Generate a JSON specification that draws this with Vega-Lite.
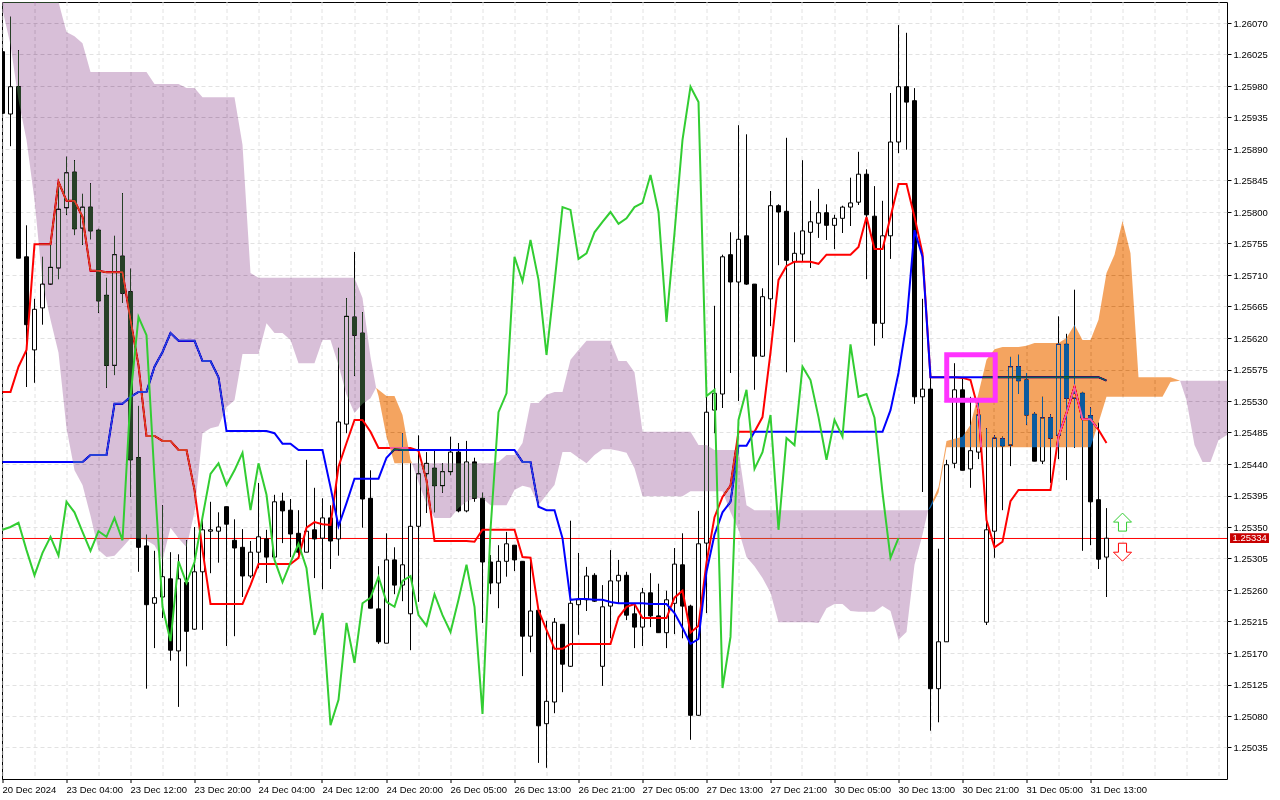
{
  "$schema": "https://vega.github.io/schema/vega-lite/v6.json",
  "autosize": "none",
  "width": 1225,
  "height": 777,
  "padding": {"left": 2, "top": 2, "right": 53, "bottom": 21},
  "background": "#ffffff",
  "view": {"fill": "#ffffff", "stroke": "#000000", "strokeWidth": 1},
  "datasets": {
    "bars": [
      {"i":0,"o":1.26029,"h":1.26029,"l":1.25941,"c":1.25941,"tenkan":1.25543,"kijun":1.25443,"chikou":1.25346},
      {"i":1,"o":1.2594,"h":1.26079,"l":1.25894,"c":1.25979,"tenkan":1.25543,"kijun":1.25443,"chikou":1.2535},
      {"i":2,"o":1.25979,"h":1.26031,"l":1.25734,"c":1.25734,"tenkan":1.25579,"kijun":1.25443,"chikou":1.25356},
      {"i":3,"o":1.25736,"h":1.25781,"l":1.2555,"c":1.25639,"tenkan":1.25603,"kijun":1.25443,"chikou":1.25317},
      {"i":4,"o":1.25603,"h":1.25676,"l":1.25556,"c":1.25661,"tenkan":1.25754,"kijun":1.25443,"chikou":1.25281},
      {"i":5,"o":1.25663,"h":1.25736,"l":1.25639,"c":1.25697,"tenkan":1.25754,"kijun":1.25443,"chikou":1.25313},
      {"i":6,"o":1.25697,"h":1.25756,"l":1.25696,"c":1.25721,"tenkan":1.25754,"kijun":1.25443,"chikou":1.25336},
      {"i":7,"o":1.2572,"h":1.25843,"l":1.25704,"c":1.25804,"tenkan":1.25843,"kijun":1.25443,"chikou":1.25309},
      {"i":8,"o":1.25806,"h":1.25879,"l":1.25796,"c":1.25856,"tenkan":1.25816,"kijun":1.25443,"chikou":1.25386},
      {"i":9,"o":1.25857,"h":1.25874,"l":1.25767,"c":1.25776,"tenkan":1.25816,"kijun":1.25443,"chikou":1.25371},
      {"i":10,"o":1.25777,"h":1.25826,"l":1.25753,"c":1.25807,"tenkan":1.25793,"kijun":1.25443,"chikou":1.25343},
      {"i":11,"o":1.25807,"h":1.25841,"l":1.25761,"c":1.25773,"tenkan":1.25716,"kijun":1.25453,"chikou":1.25316},
      {"i":12,"o":1.25774,"h":1.25776,"l":1.25656,"c":1.25673,"tenkan":1.25716,"kijun":1.25453,"chikou":1.25344},
      {"i":13,"o":1.25681,"h":1.25706,"l":1.25549,"c":1.25581,"tenkan":1.25714,"kijun":1.25453,"chikou":1.25336},
      {"i":14,"o":1.25581,"h":1.25766,"l":1.25567,"c":1.25739,"tenkan":1.25714,"kijun":1.25526,"chikou":1.25363},
      {"i":15,"o":1.25737,"h":1.25827,"l":1.2567,"c":1.25684,"tenkan":1.25714,"kijun":1.25526,"chikou":1.25331},
      {"i":16,"o":1.25686,"h":1.25719,"l":1.25393,"c":1.25446,"tenkan":1.25646,"kijun":1.25536,"chikou":1.25536},
      {"i":17,"o":1.25449,"h":1.25523,"l":1.25286,"c":1.25321,"tenkan":1.25581,"kijun":1.25543,"chikou":1.2565},
      {"i":18,"o":1.25323,"h":1.25339,"l":1.25119,"c":1.25239,"tenkan":1.2548,"kijun":1.25543,"chikou":1.25624},
      {"i":19,"o":1.25241,"h":1.25316,"l":1.25177,"c":1.25249,"tenkan":1.2548,"kijun":1.25579,"chikou":1.2542},
      {"i":20,"o":1.2525,"h":1.25381,"l":1.2522,"c":1.25279,"tenkan":1.25473,"kijun":1.256,"chikou":1.25236},
      {"i":21,"o":1.25276,"h":1.25314,"l":1.25159,"c":1.25174,"tenkan":1.25473,"kijun":1.25627,"chikou":1.25187},
      {"i":22,"o":1.25173,"h":1.25311,"l":1.25093,"c":1.25276,"tenkan":1.2546,"kijun":1.25616,"chikou":1.25301},
      {"i":23,"o":1.25271,"h":1.25331,"l":1.25151,"c":1.25201,"tenkan":1.2546,"kijun":1.25616,"chikou":1.2527},
      {"i":24,"o":1.25204,"h":1.2535,"l":1.25203,"c":1.25286,"tenkan":1.25403,"kijun":1.25616,"chikou":1.253},
      {"i":25,"o":1.25286,"h":1.25363,"l":1.25203,"c":1.25346,"tenkan":1.25317,"kijun":1.25587,"chikou":1.25364},
      {"i":26,"o":1.25344,"h":1.25386,"l":1.25284,"c":1.25346,"tenkan":1.2524,"kijun":1.25587,"chikou":1.25426},
      {"i":27,"o":1.25344,"h":1.25371,"l":1.25299,"c":1.2535,"tenkan":1.2524,"kijun":1.25564,"chikou":1.25441},
      {"i":28,"o":1.25379,"h":1.25379,"l":1.2518,"c":1.25354,"tenkan":1.2524,"kijun":1.25487,"chikou":1.2541},
      {"i":29,"o":1.25331,"h":1.25361,"l":1.25194,"c":1.2532,"tenkan":1.2524,"kijun":1.25487,"chikou":1.25431},
      {"i":30,"o":1.25321,"h":1.25347,"l":1.2525,"c":1.2528,"tenkan":1.2524,"kijun":1.25487,"chikou":1.25456},
      {"i":31,"o":1.2528,"h":1.2533,"l":1.25277,"c":1.25314,"tenkan":1.25267,"kijun":1.25487,"chikou":1.25374},
      {"i":32,"o":1.25314,"h":1.25413,"l":1.25291,"c":1.25336,"tenkan":1.25297,"kijun":1.25487,"chikou":1.25441},
      {"i":33,"o":1.25333,"h":1.25346,"l":1.2527,"c":1.25307,"tenkan":1.25297,"kijun":1.25487,"chikou":1.25396},
      {"i":34,"o":1.25307,"h":1.25396,"l":1.25307,"c":1.25386,"tenkan":1.25297,"kijun":1.25484,"chikou":1.25303},
      {"i":35,"o":1.25387,"h":1.25399,"l":1.25327,"c":1.25373,"tenkan":1.25297,"kijun":1.25469,"chikou":1.25271},
      {"i":36,"o":1.25374,"h":1.2539,"l":1.25307,"c":1.2534,"tenkan":1.25297,"kijun":1.25469,"chikou":1.25299},
      {"i":37,"o":1.25341,"h":1.25374,"l":1.2531,"c":1.25314,"tenkan":1.25306,"kijun":1.2546,"chikou":1.25326},
      {"i":38,"o":1.25314,"h":1.25446,"l":1.25314,"c":1.25344,"tenkan":1.25349,"kijun":1.2546,"chikou":1.25291},
      {"i":39,"o":1.25346,"h":1.25406,"l":1.25277,"c":1.25333,"tenkan":1.25357,"kijun":1.2546,"chikou":1.25196},
      {"i":40,"o":1.25334,"h":1.25391,"l":1.25261,"c":1.25363,"tenkan":1.25354,"kijun":1.2546,"chikou":1.25227},
      {"i":41,"o":1.25363,"h":1.25381,"l":1.2529,"c":1.2533,"tenkan":1.25353,"kijun":1.25407,"chikou":1.25067},
      {"i":42,"o":1.25333,"h":1.25606,"l":1.25309,"c":1.255,"tenkan":1.25436,"kijun":1.25351,"chikou":1.25103},
      {"i":43,"o":1.25497,"h":1.25677,"l":1.25484,"c":1.25651,"tenkan":1.2547,"kijun":1.25384,"chikou":1.25213},
      {"i":44,"o":1.2565,"h":1.25743,"l":1.25566,"c":1.25624,"tenkan":1.25503,"kijun":1.25419,"chikou":1.25156},
      {"i":45,"o":1.25627,"h":1.25657,"l":1.25349,"c":1.2539,"tenkan":1.25503,"kijun":1.25419,"chikou":1.25241},
      {"i":46,"o":1.25391,"h":1.25431,"l":1.25234,"c":1.25234,"tenkan":1.25486,"kijun":1.25419,"chikou":1.25249},
      {"i":47,"o":1.25233,"h":1.25294,"l":1.25183,"c":1.25186,"tenkan":1.25463,"kijun":1.25419,"chikou":1.25279},
      {"i":48,"o":1.25184,"h":1.25341,"l":1.25184,"c":1.25303,"tenkan":1.25463,"kijun":1.25449,"chikou":1.25243},
      {"i":49,"o":1.25303,"h":1.25321,"l":1.25254,"c":1.25267,"tenkan":1.25463,"kijun":1.25461,"chikou":1.25236},
      {"i":50,"o":1.25267,"h":1.25484,"l":1.25244,"c":1.25296,"tenkan":1.25463,"kijun":1.2546,"chikou":1.25273},
      {"i":51,"o":1.25226,"h":1.25441,"l":1.25174,"c":1.25351,"tenkan":1.25463,"kijun":1.2546,"chikou":1.2528},
      {"i":52,"o":1.25351,"h":1.25481,"l":1.25243,"c":1.25426,"tenkan":1.25459,"kijun":1.2546,"chikou":1.25224},
      {"i":53,"o":1.25426,"h":1.25457,"l":1.2537,"c":1.25441,"tenkan":1.25417,"kijun":1.2546,"chikou":1.25209},
      {"i":54,"o":1.25434,"h":1.25459,"l":1.25371,"c":1.25409,"tenkan":1.2533,"kijun":1.2546,"chikou":1.25254},
      {"i":55,"o":1.25409,"h":1.25441,"l":1.25399,"c":1.25429,"tenkan":1.2533,"kijun":1.2546,"chikou":1.25224},
      {"i":56,"o":1.25429,"h":1.25479,"l":1.25424,"c":1.25457,"tenkan":1.2533,"kijun":1.2546,"chikou":1.252},
      {"i":57,"o":1.25457,"h":1.2547,"l":1.25371,"c":1.25373,"tenkan":1.2533,"kijun":1.2546,"chikou":1.25246},
      {"i":58,"o":1.25373,"h":1.25473,"l":1.25371,"c":1.25443,"tenkan":1.2533,"kijun":1.2546,"chikou":1.25296},
      {"i":59,"o":1.25443,"h":1.25449,"l":1.25386,"c":1.25391,"tenkan":1.25329,"kijun":1.2546,"chikou":1.25236},
      {"i":60,"o":1.25391,"h":1.25399,"l":1.25213,"c":1.253,"tenkan":1.25346,"kijun":1.2546,"chikou":1.25083},
      {"i":61,"o":1.253,"h":1.2531,"l":1.25254,"c":1.2527,"tenkan":1.25346,"kijun":1.2546,"chikou":1.25346},
      {"i":62,"o":1.2527,"h":1.25324,"l":1.25234,"c":1.25301,"tenkan":1.25346,"kijun":1.2546,"chikou":1.25514},
      {"i":63,"o":1.25301,"h":1.25343,"l":1.25279,"c":1.25326,"tenkan":1.25346,"kijun":1.2546,"chikou":1.25541},
      {"i":64,"o":1.25324,"h":1.25324,"l":1.25287,"c":1.25303,"tenkan":1.25346,"kijun":1.2546,"chikou":1.25736},
      {"i":65,"o":1.25301,"h":1.25301,"l":1.25137,"c":1.25194,"tenkan":1.25307,"kijun":1.25443,"chikou":1.25701},
      {"i":66,"o":1.25194,"h":1.25307,"l":1.25171,"c":1.2523,"tenkan":1.25306,"kijun":1.25443,"chikou":1.2576},
      {"i":67,"o":1.25231,"h":1.25231,"l":1.25013,"c":1.25066,"tenkan":1.25231,"kijun":1.25379,"chikou":1.25703},
      {"i":68,"o":1.25069,"h":1.25216,"l":1.25006,"c":1.25101,"tenkan":1.25203,"kijun":1.25374,"chikou":1.25596},
      {"i":69,"o":1.251,"h":1.2522,"l":1.25084,"c":1.25214,"tenkan":1.25176,"kijun":1.25374,"chikou":1.25699},
      {"i":70,"o":1.25211,"h":1.25211,"l":1.25114,"c":1.25154,"tenkan":1.25176,"kijun":1.25334,"chikou":1.25807},
      {"i":71,"o":1.25151,"h":1.25359,"l":1.2515,"c":1.25241,"tenkan":1.25183,"kijun":1.25246,"chikou":1.25803},
      {"i":72,"o":1.25239,"h":1.25313,"l":1.25196,"c":1.25246,"tenkan":1.25183,"kijun":1.25247,"chikou":1.25733},
      {"i":73,"o":1.25246,"h":1.25293,"l":1.2523,"c":1.2528,"tenkan":1.25183,"kijun":1.25247,"chikou":1.25741},
      {"i":74,"o":1.25281,"h":1.25284,"l":1.25243,"c":1.25244,"tenkan":1.25183,"kijun":1.25246,"chikou":1.25771},
      {"i":75,"o":1.25151,"h":1.25267,"l":1.25123,"c":1.25236,"tenkan":1.25183,"kijun":1.25246,"chikou":1.25786},
      {"i":76,"o":1.25237,"h":1.25317,"l":1.25191,"c":1.25273,"tenkan":1.25183,"kijun":1.25243,"chikou":1.258},
      {"i":77,"o":1.25273,"h":1.25303,"l":1.25241,"c":1.25281,"tenkan":1.25221,"kijun":1.25241,"chikou":1.25783},
      {"i":78,"o":1.25281,"h":1.25286,"l":1.25217,"c":1.25224,"tenkan":1.25236,"kijun":1.25241,"chikou":1.25791},
      {"i":79,"o":1.25226,"h":1.25239,"l":1.25177,"c":1.25207,"tenkan":1.2524,"kijun":1.25241,"chikou":1.25807},
      {"i":80,"o":1.25207,"h":1.25263,"l":1.2518,"c":1.25256,"tenkan":1.2522,"kijun":1.25241,"chikou":1.25813},
      {"i":81,"o":1.25256,"h":1.25284,"l":1.25207,"c":1.25223,"tenkan":1.2522,"kijun":1.2524,"chikou":1.25853},
      {"i":82,"o":1.25223,"h":1.25269,"l":1.25199,"c":1.25199,"tenkan":1.2522,"kijun":1.2524,"chikou":1.258},
      {"i":83,"o":1.25199,"h":1.25259,"l":1.25177,"c":1.25246,"tenkan":1.2522,"kijun":1.2524,"chikou":1.25643},
      {"i":84,"o":1.25241,"h":1.2532,"l":1.25197,"c":1.25297,"tenkan":1.25249,"kijun":1.25227,"chikou":1.2577},
      {"i":85,"o":1.25296,"h":1.25341,"l":1.25191,"c":1.25237,"tenkan":1.25259,"kijun":1.25206,"chikou":1.25903},
      {"i":86,"o":1.25237,"h":1.25239,"l":1.25046,"c":1.25081,"tenkan":1.25199,"kijun":1.25183,"chikou":1.25979},
      {"i":87,"o":1.25081,"h":1.25373,"l":1.2508,"c":1.25326,"tenkan":1.25209,"kijun":1.2519,"chikou":1.25957},
      {"i":88,"o":1.25327,"h":1.25536,"l":1.25227,"c":1.25514,"tenkan":1.25299,"kijun":1.25286,"chikou":1.25537},
      {"i":89,"o":1.25517,"h":1.25666,"l":1.25484,"c":1.25541,"tenkan":1.25364,"kijun":1.25339,"chikou":1.25546},
      {"i":90,"o":1.2554,"h":1.25739,"l":1.2552,"c":1.25736,"tenkan":1.25393,"kijun":1.25371,"chikou":1.2512},
      {"i":91,"o":1.25739,"h":1.25771,"l":1.2557,"c":1.257,"tenkan":1.25409,"kijun":1.25386,"chikou":1.25193},
      {"i":92,"o":1.257,"h":1.25924,"l":1.2553,"c":1.25761,"tenkan":1.25486,"kijun":1.25466,"chikou":1.25503},
      {"i":93,"o":1.25766,"h":1.25911,"l":1.25696,"c":1.25697,"tenkan":1.25486,"kijun":1.25466,"chikou":1.25546},
      {"i":94,"o":1.25697,"h":1.25697,"l":1.25546,"c":1.25594,"tenkan":1.25486,"kijun":1.25486,"chikou":1.25433},
      {"i":95,"o":1.25594,"h":1.25691,"l":1.25593,"c":1.25679,"tenkan":1.25507,"kijun":1.25486,"chikou":1.25457},
      {"i":96,"o":1.25676,"h":1.2583,"l":1.25637,"c":1.25809,"tenkan":1.25599,"kijun":1.25486,"chikou":1.2551},
      {"i":97,"o":1.25809,"h":1.25811,"l":1.25724,"c":1.258,"tenkan":1.25703,"kijun":1.25486,"chikou":1.25346},
      {"i":98,"o":1.25801,"h":1.25906,"l":1.25571,"c":1.25731,"tenkan":1.25723,"kijun":1.25486,"chikou":1.25477},
      {"i":99,"o":1.25729,"h":1.25771,"l":1.25614,"c":1.25741,"tenkan":1.25729,"kijun":1.25486,"chikou":1.25467},
      {"i":100,"o":1.2574,"h":1.25874,"l":1.25729,"c":1.25773,"tenkan":1.25729,"kijun":1.25486,"chikou":1.25579},
      {"i":101,"o":1.25771,"h":1.25816,"l":1.2572,"c":1.25786,"tenkan":1.25729,"kijun":1.25486,"chikou":1.2556},
      {"i":102,"o":1.25784,"h":1.25833,"l":1.25763,"c":1.25799,"tenkan":1.25726,"kijun":1.25486,"chikou":1.25507},
      {"i":103,"o":1.25799,"h":1.25811,"l":1.2576,"c":1.25781,"tenkan":1.25739,"kijun":1.25486,"chikou":1.25446},
      {"i":104,"o":1.25781,"h":1.25796,"l":1.25747,"c":1.25791,"tenkan":1.25739,"kijun":1.25486,"chikou":1.25503},
      {"i":105,"o":1.25791,"h":1.25809,"l":1.2577,"c":1.25807,"tenkan":1.25739,"kijun":1.25486,"chikou":1.25479},
      {"i":106,"o":1.25807,"h":1.25849,"l":1.2578,"c":1.25813,"tenkan":1.25739,"kijun":1.25486,"chikou":1.25611},
      {"i":107,"o":1.25814,"h":1.25886,"l":1.2581,"c":1.25854,"tenkan":1.2575,"kijun":1.25486,"chikou":1.25536},
      {"i":108,"o":1.25854,"h":1.25861,"l":1.25704,"c":1.25796,"tenkan":1.25793,"kijun":1.25486,"chikou":1.2554},
      {"i":109,"o":1.25794,"h":1.25837,"l":1.25609,"c":1.25641,"tenkan":1.25747,"kijun":1.25486,"chikou":1.25506},
      {"i":110,"o":1.25641,"h":1.25816,"l":1.2562,"c":1.25766,"tenkan":1.25747,"kijun":1.25486,"chikou":1.25399},
      {"i":111,"o":1.25766,"h":1.2597,"l":1.25733,"c":1.259,"tenkan":1.25793,"kijun":1.25517,"chikou":1.25306},
      {"i":112,"o":1.259,"h":1.26067,"l":1.25884,"c":1.25979,"tenkan":1.2584,"kijun":1.2557,"chikou":1.25334},
      {"i":113,"o":1.25979,"h":1.26056,"l":1.25889,"c":1.25957,"tenkan":1.2584,"kijun":1.25641},
      {"i":114,"o":1.25959,"h":1.25977,"l":1.25526,"c":1.25536,"tenkan":1.25793,"kijun":1.25774},
      {"i":115,"o":1.25536,"h":1.25676,"l":1.254,"c":1.25547,"tenkan":1.25741,"kijun":1.25736},
      {"i":116,"o":1.25547,"h":1.25564,"l":1.25059,"c":1.25119,"tenkan":1.25564,"kijun":1.25564},
      {"i":117,"o":1.25119,"h":1.25319,"l":1.25071,"c":1.25186,"tenkan":1.25564,"kijun":1.25564},
      {"i":118,"o":1.25186,"h":1.25446,"l":1.25186,"c":1.25439,"tenkan":1.25564,"kijun":1.25564},
      {"i":119,"o":1.25441,"h":1.25584,"l":1.25434,"c":1.25546,"tenkan":1.25564,"kijun":1.25564},
      {"i":120,"o":1.25546,"h":1.25564,"l":1.25431,"c":1.25431,"tenkan":1.25563,"kijun":1.25564},
      {"i":121,"o":1.25433,"h":1.25536,"l":1.25406,"c":1.25459,"tenkan":1.2556,"kijun":1.25564},
      {"i":122,"o":1.25457,"h":1.25531,"l":1.25447,"c":1.2551,"tenkan":1.25517,"kijun":1.25564},
      {"i":123,"o":1.25214,"h":1.25491,"l":1.2521,"c":1.25346,"tenkan":1.2536,"kijun":1.25564},
      {"i":124,"o":1.25344,"h":1.25481,"l":1.25306,"c":1.25477,"tenkan":1.25321,"kijun":1.25564},
      {"i":125,"o":1.25476,"h":1.25479,"l":1.25374,"c":1.25466,"tenkan":1.25329,"kijun":1.25564},
      {"i":126,"o":1.25467,"h":1.25593,"l":1.25437,"c":1.25579,"tenkan":1.25387,"kijun":1.25564},
      {"i":127,"o":1.25579,"h":1.25596,"l":1.2554,"c":1.25559,"tenkan":1.25403,"kijun":1.25564},
      {"i":128,"o":1.2556,"h":1.2557,"l":1.25496,"c":1.2551,"tenkan":1.25403,"kijun":1.25564},
      {"i":129,"o":1.25511,"h":1.25514,"l":1.25444,"c":1.25444,"tenkan":1.25403,"kijun":1.25564},
      {"i":130,"o":1.25444,"h":1.25536,"l":1.2544,"c":1.25506,"tenkan":1.25403,"kijun":1.25564},
      {"i":131,"o":1.25506,"h":1.25511,"l":1.25413,"c":1.25477,"tenkan":1.25403,"kijun":1.25564},
      {"i":132,"o":1.25481,"h":1.25651,"l":1.25447,"c":1.25611,"tenkan":1.25479,"kijun":1.25564},
      {"i":133,"o":1.25611,"h":1.25626,"l":1.25417,"c":1.25534,"tenkan":1.25513,"kijun":1.25564},
      {"i":134,"o":1.25534,"h":1.25689,"l":1.25463,"c":1.25541,"tenkan":1.2555,"kijun":1.25564},
      {"i":135,"o":1.25541,"h":1.25543,"l":1.25316,"c":1.25506,"tenkan":1.25504,"kijun":1.25564},
      {"i":136,"o":1.25509,"h":1.25521,"l":1.25324,"c":1.25386,"tenkan":1.25504,"kijun":1.25564},
      {"i":137,"o":1.25389,"h":1.25499,"l":1.2529,"c":1.25304,"tenkan":1.25489,"kijun":1.25564},
      {"i":138,"o":1.25307,"h":1.25377,"l":1.2525,"c":1.25334,"tenkan":1.2547,"kijun":1.25559}
    ],
    "cloud": [
      {"seg":1,"kumo":"bear","i":0,"a":1.261,"b":1.26089},
      {"seg":1,"kumo":"bear","i":1,"a":1.261,"b":1.26039},
      {"seg":1,"kumo":"bear","i":2,"a":1.261,"b":1.2596},
      {"seg":1,"kumo":"bear","i":3,"a":1.261,"b":1.25903},
      {"seg":1,"kumo":"bear","i":4,"a":1.261,"b":1.25817},
      {"seg":1,"kumo":"bear","i":5,"a":1.261,"b":1.25699},
      {"seg":1,"kumo":"bear","i":6,"a":1.261,"b":1.25646},
      {"seg":1,"kumo":"bear","i":7,"a":1.261,"b":1.25599},
      {"seg":1,"kumo":"bear","i":8,"a":1.26057,"b":1.25491},
      {"seg":1,"kumo":"bear","i":9,"a":1.26051,"b":1.25431},
      {"seg":1,"kumo":"bear","i":10,"a":1.26041,"b":1.2541},
      {"seg":1,"kumo":"bear","i":11,"a":1.26,"b":1.25366},
      {"seg":1,"kumo":"bear","i":12,"a":1.26,"b":1.25317},
      {"seg":1,"kumo":"bear","i":13,"a":1.26,"b":1.25307},
      {"seg":1,"kumo":"bear","i":14,"a":1.26,"b":1.25309},
      {"seg":1,"kumo":"bear","i":15,"a":1.26,"b":1.25321},
      {"seg":1,"kumo":"bear","i":16,"a":1.26,"b":1.25334},
      {"seg":1,"kumo":"bear","i":17,"a":1.26,"b":1.25334},
      {"seg":1,"kumo":"bear","i":18,"a":1.26,"b":1.25331},
      {"seg":1,"kumo":"bear","i":19,"a":1.25983,"b":1.25324},
      {"seg":1,"kumo":"bear","i":20,"a":1.25983,"b":1.25303},
      {"seg":1,"kumo":"bear","i":21,"a":1.25983,"b":1.25349},
      {"seg":1,"kumo":"bear","i":22,"a":1.25983,"b":1.25334},
      {"seg":1,"kumo":"bear","i":23,"a":1.25977,"b":1.25321},
      {"seg":1,"kumo":"bear","i":24,"a":1.25977,"b":1.25371},
      {"seg":1,"kumo":"bear","i":25,"a":1.25964,"b":1.25484},
      {"seg":1,"kumo":"bear","i":26,"a":1.25964,"b":1.25491},
      {"seg":1,"kumo":"bear","i":27,"a":1.25964,"b":1.25494},
      {"seg":1,"kumo":"bear","i":28,"a":1.25964,"b":1.25521},
      {"seg":1,"kumo":"bear","i":29,"a":1.25964,"b":1.25531},
      {"seg":1,"kumo":"bear","i":30,"a":1.25896,"b":1.25597},
      {"seg":1,"kumo":"bear","i":31,"a":1.25713,"b":1.25597},
      {"seg":1,"kumo":"bear","i":32,"a":1.25706,"b":1.25597},
      {"seg":1,"kumo":"bear","i":33,"a":1.25706,"b":1.25641},
      {"seg":1,"kumo":"bear","i":34,"a":1.25706,"b":1.25627},
      {"seg":1,"kumo":"bear","i":35,"a":1.25706,"b":1.25627},
      {"seg":1,"kumo":"bear","i":36,"a":1.25706,"b":1.25617},
      {"seg":1,"kumo":"bear","i":37,"a":1.25706,"b":1.25584},
      {"seg":1,"kumo":"bear","i":38,"a":1.25706,"b":1.25584},
      {"seg":1,"kumo":"bear","i":39,"a":1.25706,"b":1.25584},
      {"seg":1,"kumo":"bear","i":40,"a":1.25706,"b":1.25617},
      {"seg":1,"kumo":"bear","i":41,"a":1.25706,"b":1.25617},
      {"seg":1,"kumo":"bear","i":42,"a":1.25706,"b":1.25581},
      {"seg":1,"kumo":"bear","i":43,"a":1.25706,"b":1.25539},
      {"seg":1,"kumo":"bear","i":44,"a":1.25706,"b":1.25513},
      {"seg":1,"kumo":"bear","i":45,"a":1.25677,"b":1.25526},
      {"seg":1,"kumo":"bear","i":46,"a":1.25593,"b":1.25534},
      {"seg":1,"kumo":"bear","i":46.7,"a":1.25549,"b":1.25549},
      {"seg":2,"kumo":"bull","i":46.7,"a":1.25549,"b":1.25549},
      {"seg":2,"kumo":"bull","i":47,"a":1.25546,"b":1.25537},
      {"seg":2,"kumo":"bull","i":48,"a":1.25537,"b":1.25479},
      {"seg":2,"kumo":"bull","i":49,"a":1.25537,"b":1.25441},
      {"seg":2,"kumo":"bull","i":50,"a":1.2551,"b":1.25441},
      {"seg":2,"kumo":"bull","i":51,"a":1.25446,"b":1.25441},
      {"seg":2,"kumo":"bull","i":51.2,"a":1.25441,"b":1.25441},
      {"seg":3,"kumo":"bear","i":51.2,"a":1.25441,"b":1.25441},
      {"seg":3,"kumo":"bear","i":52,"a":1.25441,"b":1.25414},
      {"seg":3,"kumo":"bear","i":53,"a":1.25441,"b":1.25383},
      {"seg":3,"kumo":"bear","i":54,"a":1.25441,"b":1.25363},
      {"seg":3,"kumo":"bear","i":55,"a":1.25441,"b":1.25363},
      {"seg":3,"kumo":"bear","i":56,"a":1.25441,"b":1.25363},
      {"seg":3,"kumo":"bear","i":57,"a":1.25441,"b":1.25377},
      {"seg":3,"kumo":"bear","i":58,"a":1.25441,"b":1.25386},
      {"seg":3,"kumo":"bear","i":59,"a":1.25441,"b":1.25391},
      {"seg":3,"kumo":"bear","i":60,"a":1.25441,"b":1.25391},
      {"seg":3,"kumo":"bear","i":61,"a":1.25441,"b":1.25381},
      {"seg":3,"kumo":"bear","i":62,"a":1.25443,"b":1.25381},
      {"seg":3,"kumo":"bear","i":63,"a":1.25453,"b":1.25381},
      {"seg":3,"kumo":"bear","i":64,"a":1.25453,"b":1.25403},
      {"seg":3,"kumo":"bear","i":65,"a":1.2547,"b":1.25409},
      {"seg":3,"kumo":"bear","i":66,"a":1.25527,"b":1.25406},
      {"seg":3,"kumo":"bear","i":67,"a":1.25527,"b":1.25381},
      {"seg":3,"kumo":"bear","i":68,"a":1.25539,"b":1.25396},
      {"seg":3,"kumo":"bear","i":69,"a":1.25543,"b":1.2541},
      {"seg":3,"kumo":"bear","i":70,"a":1.25543,"b":1.25457},
      {"seg":3,"kumo":"bear","i":71,"a":1.25589,"b":1.25457},
      {"seg":3,"kumo":"bear","i":72,"a":1.25603,"b":1.25449},
      {"seg":3,"kumo":"bear","i":73,"a":1.25616,"b":1.25441},
      {"seg":3,"kumo":"bear","i":74,"a":1.25616,"b":1.25453},
      {"seg":3,"kumo":"bear","i":75,"a":1.25616,"b":1.25461},
      {"seg":3,"kumo":"bear","i":76,"a":1.25616,"b":1.25461},
      {"seg":3,"kumo":"bear","i":77,"a":1.25587,"b":1.25459},
      {"seg":3,"kumo":"bear","i":78,"a":1.25587,"b":1.25456},
      {"seg":3,"kumo":"bear","i":79,"a":1.25571,"b":1.25434},
      {"seg":3,"kumo":"bear","i":80,"a":1.25486,"b":1.25394},
      {"seg":3,"kumo":"bear","i":81,"a":1.25486,"b":1.25394},
      {"seg":3,"kumo":"bear","i":82,"a":1.25486,"b":1.25394},
      {"seg":3,"kumo":"bear","i":83,"a":1.25486,"b":1.25394},
      {"seg":3,"kumo":"bear","i":84,"a":1.25486,"b":1.25394},
      {"seg":3,"kumo":"bear","i":85,"a":1.25486,"b":1.25394},
      {"seg":3,"kumo":"bear","i":86,"a":1.25486,"b":1.25401},
      {"seg":3,"kumo":"bear","i":87,"a":1.25467,"b":1.25401},
      {"seg":3,"kumo":"bear","i":88,"a":1.25467,"b":1.25401},
      {"seg":3,"kumo":"bear","i":89,"a":1.2546,"b":1.25401},
      {"seg":3,"kumo":"bear","i":90,"a":1.2546,"b":1.25401},
      {"seg":3,"kumo":"bear","i":91,"a":1.2546,"b":1.25371},
      {"seg":3,"kumo":"bear","i":92,"a":1.2546,"b":1.25346},
      {"seg":3,"kumo":"bear","i":93,"a":1.25381,"b":1.25307},
      {"seg":3,"kumo":"bear","i":94,"a":1.25374,"b":1.25294},
      {"seg":3,"kumo":"bear","i":95,"a":1.25374,"b":1.25277},
      {"seg":3,"kumo":"bear","i":96,"a":1.25374,"b":1.25256},
      {"seg":3,"kumo":"bear","i":97,"a":1.25374,"b":1.25214},
      {"seg":3,"kumo":"bear","i":98,"a":1.25374,"b":1.25214},
      {"seg":3,"kumo":"bear","i":99,"a":1.25374,"b":1.25214},
      {"seg":3,"kumo":"bear","i":100,"a":1.25374,"b":1.25214},
      {"seg":3,"kumo":"bear","i":101,"a":1.25374,"b":1.25214},
      {"seg":3,"kumo":"bear","i":102,"a":1.25374,"b":1.25213},
      {"seg":3,"kumo":"bear","i":103,"a":1.25374,"b":1.25234},
      {"seg":3,"kumo":"bear","i":104,"a":1.25374,"b":1.2524},
      {"seg":3,"kumo":"bear","i":105,"a":1.25374,"b":1.2524},
      {"seg":3,"kumo":"bear","i":106,"a":1.25374,"b":1.2523},
      {"seg":3,"kumo":"bear","i":107,"a":1.25374,"b":1.25229},
      {"seg":3,"kumo":"bear","i":108,"a":1.25374,"b":1.25229},
      {"seg":3,"kumo":"bear","i":109,"a":1.25374,"b":1.25229},
      {"seg":3,"kumo":"bear","i":110,"a":1.25374,"b":1.25237},
      {"seg":3,"kumo":"bear","i":111,"a":1.25374,"b":1.2523},
      {"seg":3,"kumo":"bear","i":112,"a":1.25374,"b":1.25189},
      {"seg":3,"kumo":"bear","i":113,"a":1.25374,"b":1.252},
      {"seg":3,"kumo":"bear","i":114,"a":1.25374,"b":1.25296},
      {"seg":3,"kumo":"bear","i":115,"a":1.25374,"b":1.25339},
      {"seg":3,"kumo":"bear","i":115.7,"a":1.25374,"b":1.25374},
      {"seg":4,"kumo":"bull","i":115.7,"a":1.25374,"b":1.25374},
      {"seg":4,"kumo":"bull","i":116,"a":1.25381,"b":1.25377},
      {"seg":4,"kumo":"bull","i":117,"a":1.25407,"b":1.25399},
      {"seg":4,"kumo":"bull","i":118,"a":1.25473,"b":1.25464},
      {"seg":4,"kumo":"bull","i":119,"a":1.25476,"b":1.25464},
      {"seg":4,"kumo":"bull","i":120,"a":1.25479,"b":1.25464},
      {"seg":4,"kumo":"bull","i":121,"a":1.25496,"b":1.25464},
      {"seg":4,"kumo":"bull","i":122,"a":1.25541,"b":1.25464},
      {"seg":4,"kumo":"bull","i":123,"a":1.25589,"b":1.25464},
      {"seg":4,"kumo":"bull","i":124,"a":1.25604,"b":1.25464},
      {"seg":4,"kumo":"bull","i":125,"a":1.25607,"b":1.25464},
      {"seg":4,"kumo":"bull","i":126,"a":1.25607,"b":1.25464},
      {"seg":4,"kumo":"bull","i":127,"a":1.25607,"b":1.25464},
      {"seg":4,"kumo":"bull","i":128,"a":1.25609,"b":1.25464},
      {"seg":4,"kumo":"bull","i":129,"a":1.25613,"b":1.25464},
      {"seg":4,"kumo":"bull","i":130,"a":1.25613,"b":1.25464},
      {"seg":4,"kumo":"bull","i":131,"a":1.25613,"b":1.25464},
      {"seg":4,"kumo":"bull","i":132,"a":1.25613,"b":1.25464},
      {"seg":4,"kumo":"bull","i":133,"a":1.2562,"b":1.25464},
      {"seg":4,"kumo":"bull","i":134,"a":1.25639,"b":1.25464},
      {"seg":4,"kumo":"bull","i":135,"a":1.25617,"b":1.25464},
      {"seg":4,"kumo":"bull","i":136,"a":1.25617,"b":1.25464},
      {"seg":4,"kumo":"bull","i":137,"a":1.25646,"b":1.25499},
      {"seg":4,"kumo":"bull","i":138,"a":1.25713,"b":1.25536},
      {"seg":4,"kumo":"bull","i":139,"a":1.25739,"b":1.25536},
      {"seg":4,"kumo":"bull","i":140,"a":1.25787,"b":1.25536},
      {"seg":4,"kumo":"bull","i":141,"a":1.25741,"b":1.25536},
      {"seg":4,"kumo":"bull","i":142,"a":1.25564,"b":1.25536},
      {"seg":4,"kumo":"bull","i":143,"a":1.25564,"b":1.25536},
      {"seg":4,"kumo":"bull","i":144,"a":1.25564,"b":1.25536},
      {"seg":4,"kumo":"bull","i":145,"a":1.25564,"b":1.25536},
      {"seg":4,"kumo":"bull","i":146,"a":1.25564,"b":1.25557},
      {"seg":4,"kumo":"bull","i":147.2,"a":1.25559,"b":1.25559},
      {"seg":5,"kumo":"bear","i":147.2,"a":1.25559,"b":1.25559},
      {"seg":5,"kumo":"bear","i":148,"a":1.25559,"b":1.25531},
      {"seg":5,"kumo":"bear","i":149,"a":1.25559,"b":1.25467},
      {"seg":5,"kumo":"bear","i":150,"a":1.25559,"b":1.25443},
      {"seg":5,"kumo":"bear","i":151,"a":1.25559,"b":1.25443},
      {"seg":5,"kumo":"bear","i":152,"a":1.25559,"b":1.25474},
      {"seg":5,"kumo":"bear","i":153,"a":1.25559,"b":1.25481},
      {"seg":5,"kumo":"bear","i":153.0625,"a":1.25559,"b":1.25481}
    ]
  },
  "data": {"name": "bars"},
  "encoding": {
    "x": {
      "field": "i",
      "type": "quantitative",
      "title": null,
      "scale": {"domain": [-0.0625, 153.0625], "nice": false, "zero": false, "padding": 0},
      "axis": {
        "orient": "bottom",
        "translate": 0,
        "tickCount": 100,
        "values": [0,4,8,12,16,20,24,28,32,36,40,44,48,52,56,60,64,68,72,76,80,84,88,92,96,100,104,108,112,116,120,124,128,132,136,140,144,148,152],
        "grid": true,
        "gridColor": "#e2e2e2",
        "gridDash": [4, 3],
        "domain": false,
        "tickSize": 4,
        "tickColor": "#000000",
        "tickOpacity": {"condition": {"test": "datum.value % 8 === 0 && datum.value <= 136", "value": 1}, "value": 0},
        "labelExpr": "['20 Dec 2024','23 Dec 04:00','23 Dec 12:00','23 Dec 20:00','24 Dec 04:00','24 Dec 12:00','24 Dec 20:00','26 Dec 05:00','26 Dec 13:00','26 Dec 21:00','27 Dec 05:00','27 Dec 13:00','27 Dec 21:00','30 Dec 05:00','30 Dec 13:00','30 Dec 21:00','31 Dec 05:00','31 Dec 13:00'][datum.value / 8] || ''",
        "labelAlign": "left",
        "labelFont": "Liberation Sans",
        "labelFontSize": 9.5,
        "labelColor": "#000000",
        "labelPadding": 2,
        "labelOverlap": false,
        "labelBound": false,
        "labelFlush": false
      }
    }
  },
  "layer": [
    {
      "data": {"values": [{"i": -0.0625, "i2": 153.0625, "last": 1.253336}]},
      "mark": {"type": "rule", "color": "#ff0000", "strokeWidth": 1},
      "encoding": {
        "x2": {"field": "i2"},
        "y": {
          "field": "last",
          "type": "quantitative",
          "title": null,
          "scale": {"domain": [1.2499, 1.261], "nice": false, "zero": false},
          "axis": {
            "orient": "right",
            "tickCount": 100,
            "values": [1.2607,1.26025,1.2598,1.25935,1.2589,1.25845,1.258,1.25755,1.2571,1.25665,1.2562,1.25575,1.2553,1.25485,1.2544,1.25395,1.2535,1.25305,1.2526,1.25215,1.2517,1.25125,1.2508,1.25035],
            "format": ".5f",
            "grid": true,
            "gridColor": "#e2e2e2",
            "gridDash": [4, 3],
            "domain": false,
            "tickSize": 4,
            "tickColor": "#000000",
            "labelFont": "Liberation Sans",
            "labelFontSize": 9.5,
            "labelColor": "#000000",
            "labelPadding": 2,
            "labelOverlap": false,
            "labelBound": false
          }
        }
      }
    },
    {
      "mark": {"type": "rule", "color": "#000000", "strokeWidth": 1, "clip": true},
      "encoding": {
        "y": {"field": "l", "type": "quantitative", "title": null, "scale": {"domain": [1.2499, 1.261], "nice": false, "zero": false}},
        "y2": {"field": "h"}
      }
    },
    {
      "mark": {"type": "bar", "size": 4, "stroke": "#000000", "strokeWidth": 1, "clip": true},
      "encoding": {
        "y": {"field": "o", "type": "quantitative", "title": null, "stack": null, "scale": {"domain": [1.2499, 1.261], "nice": false, "zero": false}},
        "y2": {"field": "c"},
        "fill": {"condition": {"test": "datum.c >= datum.o", "value": "#ffffff"}, "value": "#000000"}
      }
    },
    {
      "mark": {"type": "line", "color": "#ff0000", "strokeWidth": 2},
      "encoding": {
        "y": {"field": "tenkan", "type": "quantitative", "title": null, "scale": {"domain": [1.2499, 1.261], "nice": false, "zero": false}}
      }
    },
    {
      "mark": {"type": "line", "color": "#0000ff", "strokeWidth": 2},
      "encoding": {
        "y": {"field": "kijun", "type": "quantitative", "title": null, "scale": {"domain": [1.2499, 1.261], "nice": false, "zero": false}}
      }
    },
    {
      "data": {"name": "cloud"},
      "mark": {"type": "area", "blend": "difference", "opacity": 1},
      "encoding": {
        "y": {"field": "a", "type": "quantitative", "title": null, "stack": null, "scale": {"domain": [1.2499, 1.261], "nice": false, "zero": false}},
        "y2": {"field": "b"},
        "detail": {"field": "seg"},
        "fill": {"field": "kumo", "type": "nominal", "scale": {"domain": ["bear", "bull"], "range": ["#274027", "#0b5b9f"]}, "legend": null}
      }
    },
    {
      "mark": {"type": "line", "color": "#32cd32", "strokeWidth": 2},
      "encoding": {
        "y": {"field": "chikou", "type": "quantitative", "title": null, "scale": {"domain": [1.2499, 1.261], "nice": false, "zero": false}}
      }
    },
    {
      "data": {"values": [{"i": 140, "p": 1.25357}]},
      "mark": {"type": "point", "shape": "M0,-1L1,0L0.45,0L0.45,1L-0.45,1L-0.45,0L-1,0Z", "size": 324, "filled": true, "fill": "#ffffff", "stroke": "#32cd32", "strokeWidth": 1, "opacity": 1},
      "encoding": {
        "y": {"field": "p", "type": "quantitative", "title": null, "scale": {"domain": [1.2499, 1.261], "nice": false, "zero": false}}
      }
    },
    {
      "data": {"values": [{"i": 140, "p": 1.25314}]},
      "mark": {"type": "point", "shape": "M0,1L1,0L0.45,0L0.45,-1L-0.45,-1L-0.45,0L-1,0Z", "size": 324, "filled": true, "fill": "#ffffff", "stroke": "#ff0000", "strokeWidth": 1, "opacity": 1},
      "encoding": {
        "y": {"field": "p", "type": "quantitative", "title": null, "scale": {"domain": [1.2499, 1.261], "nice": false, "zero": false}}
      }
    },
    {
      "data": {"values": [{"i": 118.03, "i2": 124.09, "p": 1.25596, "p2": 1.25531}]},
      "mark": {"type": "rect", "fill": "transparent", "stroke": "#ff33ff", "strokeWidth": 5},
      "encoding": {
        "x2": {"field": "i2"},
        "y": {"field": "p", "type": "quantitative", "title": null, "scale": {"domain": [1.2499, 1.261], "nice": false, "zero": false}},
        "y2": {"field": "p2"}
      }
    },
    {
      "data": {"values": [{"i": 153.44, "i2": 158.31, "p": 1.25341, "p2": 1.25327}]},
      "mark": {"type": "rect", "fill": "#c80000"},
      "encoding": {
        "x2": {"field": "i2"},
        "y": {"field": "p", "type": "quantitative", "title": null, "scale": {"domain": [1.2499, 1.261], "nice": false, "zero": false}},
        "y2": {"field": "p2"}
      }
    },
    {
      "data": {"values": [{"i": 155.9, "last": 1.25334, "text": "1.25334"}]},
      "mark": {"type": "text", "font": "Liberation Sans", "fontSize": 9.5, "color": "#ffffff", "align": "center", "baseline": "middle"},
      "encoding": {
        "y": {"field": "last", "type": "quantitative", "title": null, "scale": {"domain": [1.2499, 1.261], "nice": false, "zero": false}},
        "text": {"field": "text"}
      }
    }
  ]
}
